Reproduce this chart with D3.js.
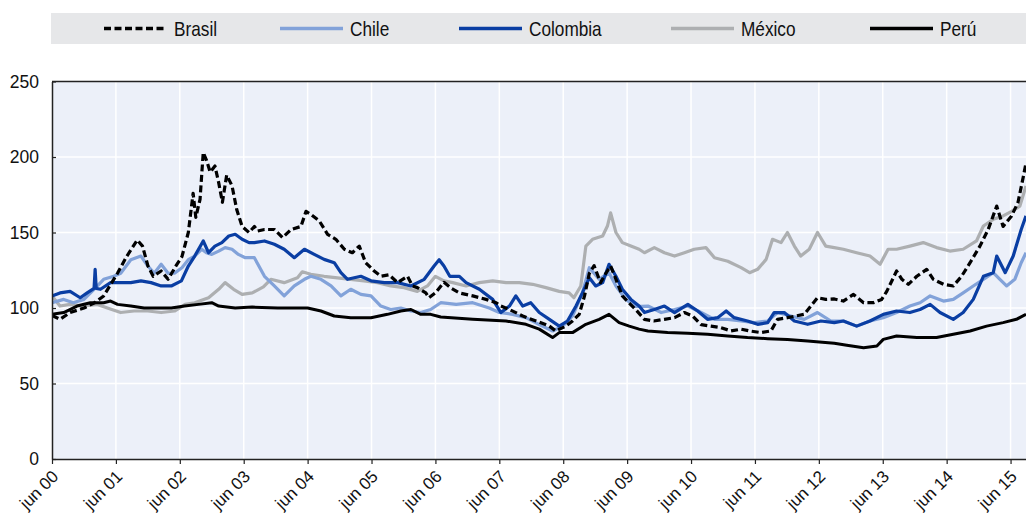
<!DOCTYPE html>
<html>
<head>
<meta charset="utf-8">
<script src="https://cdn.jsdelivr.net/npm/d3@7"></script>
<style>
  body { margin: 0; background: #fff; }
  svg { display: block; font-family: "Liberation Sans", Arial, sans-serif; }
</style>
</head>
<body>
<svg id="chart" width="1026" height="516"></svg>
<script>
// months counted from jun 2000, value = index
const tickMonths = [0, 12, 24, 36, 48, 60, 72, 84, 96, 108, 120, 132, 144, 156, 168, 180];
const tickLabels = ["jun 00", "jun 01", "jun 02", "jun 03", "jun 04", "jun 05", "jun 06", "jun 07",
  "jun 08", "jun 09", "jun 10", "jun 11", "jun 12", "jun 13", "jun 14", "jun 15"];
const yTicks = [0, 50, 100, 150, 200, 250];

const brasil = [[0,95],[1.5,92.5],[3.4,97],[6,100],[8,103.5],[9.7,108],[12.3,123],[14,134],[16,145],[17,141],[18,128],[19,121],[20.5,124.5],[21.8,119],[23.3,128],[24.4,134],[25.6,150],[26.5,176],[27,160],[27.8,172],[28.4,203],[29,198],[29.7,190],[30.6,194],[31.3,183],[32,170],[32.8,188],[33.8,181],[34.7,165],[35.7,154],[37,150],[38,154],[38.6,151],[39.9,152],[41.75,152],[43.3,146.6],[44.9,152],[46.75,154],[47.7,164],[48.6,162],[50.2,157.6],[51.75,148.8],[53.3,145.5],[54.9,138.9],[56.4,136.6],[57.7,141],[58.9,130],[60.5,124.5],[61.75,121],[63.3,122],[64.9,116.8],[66.75,121],[67.7,114.6],[68.6,113.5],[70.2,110],[70.8,106.8],[72,110],[73.6,117],[75,113],[76.5,110],[79,108],[81.5,105.7],[83.4,103.5],[84.3,101.3],[85.9,99],[88.4,94.7],[90.9,91.4],[93.4,88],[94.6,84.8],[96.5,88],[97.75,91.4],[99,95.8],[100,108],[100.9,123],[101.8,128],[103,116.8],[104,123],[104.9,127.8],[105.9,119],[107.1,108],[108.3,103.5],[109.6,99],[111.25,92.5],[113,91.4],[115,92.5],[116.9,93.6],[118.75,97],[120.3,94.7],[121.9,89],[123.75,88],[125.6,87],[127.5,84.8],[129.4,86],[131,84.8],[133.1,83.7],[135,84.8],[136.25,92.5],[138.1,93.6],[141.25,95.8],[142.5,101.3],[143.75,106.8],[145.3,105.7],[146.9,106],[148.6,104.6],[150.5,109],[152.4,103.5],[154.25,103.5],[155.8,105.7],[156.75,111],[158.6,124.5],[159.6,119],[160.8,115.7],[162.4,121],[164.25,125.6],[165.5,119],[167.4,115.7],[169.25,114.6],[170.8,121],[172.4,130],[174.25,141],[175.8,152],[177.4,167.5],[178.6,154],[180.2,161],[181.4,170],[182.4,187],[182.9,196]];

const chile = [[0,103.5],[2.2,105.7],[4,103.5],[6,105.7],[7.8,112],[9.7,119],[11.6,121],[12.9,123],[14.8,132],[16.7,134.4],[18,127.8],[19.2,123],[20.5,129],[21.8,123],[23,123],[24.4,126.7],[25.6,132],[26.8,134.4],[28.1,138.9],[29,136.6],[30,135.5],[31.3,137.7],[32.5,140],[33.8,138.9],[35,135.5],[36.3,133.3],[38,133.3],[39.9,121],[41.75,114.6],[43.6,108],[45.5,114.6],[47.4,119],[48.6,121],[50.5,119],[52.4,114.6],[54.25,108],[56.1,112.4],[58,109],[59.9,108],[61.75,101.3],[63.6,99],[65.5,100],[67.4,98],[69.25,97],[71.1,99],[73,103.5],[75.9,102.4],[79,103.5],[82.1,100],[84,97],[86.5,95.8],[89,93.6],[91.5,89],[94,84.8],[95.9,88],[97.75,94.7],[99.6,110],[100.9,126.7],[102.75,119],[104.6,123.4],[105.9,114.6],[107.75,105.7],[109.6,101],[111.9,101.3],[114.4,97],[116.9,99],[119.4,101.3],[121.9,97],[124.4,92.5],[126.9,92.5],[129.4,91.4],[131.9,90.3],[134.4,91.4],[136.25,97],[138.75,94.7],[141.25,92.5],[143.75,97],[146.25,91.4],[148.6,91.4],[151.1,88],[153.6,91.4],[156.1,93.6],[158.6,97],[161.1,101.3],[163,103.5],[164.9,108],[167.4,104.6],[169.25,105.7],[171.1,110],[173,114.6],[174.9,119],[176.75,123.4],[178,119],[179.25,114.6],[180.8,119],[182,130],[182.9,136.6]];

const colombia = [[0,108],[1.5,110],[3.4,111],[5.3,106.8],[6.6,110],[7.9,113],[8.1,125.6],[8.3,113],[9.1,112.4],[11,116.8],[12.9,116.8],[14.8,116.8],[16.7,118],[18.6,116.8],[20.5,114.6],[22.4,114.6],[24.3,118],[25.6,127.8],[26.8,134.4],[28.4,144.4],[29.4,136.6],[30.6,141],[31.9,143.3],[33.2,147.7],[34.4,148.8],[35.7,145.5],[37,143.3],[38,143.3],[39.9,144.4],[41.75,142.2],[43.6,138.9],[45.5,133.3],[47.4,138.9],[49.25,135.5],[51.1,132.2],[53,130],[54.25,123.4],[55.5,119],[58,121],[59.9,118],[62.4,116.8],[64.9,116.8],[67.4,114.6],[69.9,119],[71.75,127.8],[72.7,132],[73.6,127.8],[74.7,121],[76.5,121],[77.75,116.8],[80.25,112.4],[82.75,105.7],[84.3,97],[85.9,101.3],[87.1,108],[88.4,101.3],[89.9,103.5],[91.5,97],[93.4,92.5],[95.25,88],[96.8,91.4],[98.4,101.3],[99.6,110],[100.9,120],[102.1,114.6],[103.4,116.8],[104.6,128.9],[105.9,121],[107.1,112.4],[108.7,105.7],[110.25,101.3],[111.25,97],[113.1,99],[115,101.3],[116.9,97],[119.4,102.4],[121.25,98],[123.1,92.5],[125,93.6],[126.6,98],[128.1,93.6],[130.6,91.4],[132.5,89.2],[134.4,90.3],[135.6,97],[137.5,97],[139.4,91.4],[141.9,89.2],[144.4,91.4],[146.9,90.3],[148.6,91.4],[151.1,88],[153.6,91.4],[156.1,95.8],[158.6,98],[161.1,97],[163,99],[164.9,102.4],[166.75,97],[169.25,92.5],[171.1,97],[173,105.7],[174.9,121],[176.75,123.4],[177.4,134.4],[179,123.4],[180.5,134.4],[182,152],[182.9,161]];

const mexico = [[0,108],[1.5,101.3],[3.4,102.4],[6,101.3],[8.5,102.4],[10.4,100],[12.9,97],[15.4,98],[18,98],[20.5,97],[23,98],[25,102.4],[26.8,103.5],[29.4,106.8],[31.3,112.4],[32.5,116.8],[34.1,112.4],[35.7,109],[37.6,110],[39.7,114],[41.1,119],[43.6,116.8],[46.1,120],[47,124],[48.6,122.3],[51.1,121],[53.6,120],[56.1,119],[58.6,118],[61.1,116.8],[63.6,114.6],[66.1,113.5],[68.6,111],[70.5,114.6],[72,121],[73.6,118],[75.25,116.8],[77.75,114.6],[80.25,116.8],[82.75,118],[85.25,116.8],[87.75,116.8],[90.25,115.7],[92.75,113.5],[95.25,111],[97.1,110],[98,106.8],[99.3,114.6],[100.25,141],[101.5,145.5],[103.4,147.7],[104.3,154.3],[104.9,163],[105.9,150],[107.1,143.3],[108.7,141],[110.25,138.9],[111.25,136.6],[113.1,140],[115,136.6],[116.9,134.4],[118.75,136.6],[120.6,138.9],[122.8,140],[124.4,133.3],[126.9,131],[129.4,126.7],[131,123.4],[132.5,125.6],[134.1,132.2],[135.3,145.5],[136.9,143.3],[138.1,150],[139.4,141],[140.6,134.4],[142.2,138.9],[143.75,150],[145.3,141],[146.9,140],[148.6,138.9],[151.1,136.6],[153.6,134.4],[155.5,129],[157,138.9],[158.6,138.9],[161.1,141],[163.6,143.3],[166.1,140],[168.6,137.7],[171.1,138.9],[173.6,144.4],[174.9,154.3],[176.75,158.7],[178.6,161],[180.2,164],[181.75,167.5],[182.9,180.8]];

const peru = [[0,95.8],[2.2,97],[4.7,101.3],[7.2,103.5],[9.7,103.5],[11,104.6],[12.3,102.4],[14.8,101.3],[17.3,100],[19.9,100],[22.4,100],[24.9,101.3],[27.5,102.4],[30,103.5],[31.3,101.3],[34.4,100],[37.6,100.6],[42.4,100],[48,100],[50.5,98],[53,94.7],[56.1,93.6],[59.9,93.6],[63,95.8],[65.5,98],[67.4,99],[69.25,95.8],[71.1,95.8],[73,94],[79,92.5],[85.25,91.4],[89,89.2],[91.5,86],[94,80.4],[95.25,83.7],[97.75,83.7],[100.25,89.2],[102.75,92.5],[104.6,95.8],[106.5,90.3],[108.4,88],[110.25,86],[111.9,84.8],[115.6,83.7],[119.4,83.2],[123.1,82.6],[126.9,81.5],[130.6,80.4],[134.4,79.7],[138.1,79.2],[141.9,78.1],[144.1,77.5],[146.9,76.6],[149.25,75.3],[152.4,73.7],[154.9,74.8],[156.1,79.2],[158.6,81.5],[162.4,80.4],[166.1,80.4],[169.25,82.6],[172.4,84.8],[175.5,88],[178.6,90.3],[181.1,92.5],[182.9,95.8]];

const series = [
  { name: "Brasil", values: brasil, color: "#000000", dash: "7,3.5", width: 3.2 },
  { name: "Chile", values: chile, color: "#82A2D9", dash: null, width: 3.2 },
  { name: "Colombia", values: colombia, color: "#0A3EA3", dash: null, width: 3.2 },
  { name: "México", values: mexico, color: "#ADAFB1", dash: null, width: 3.2 },
  { name: "Perú", values: peru, color: "#000000", dash: null, width: 3 }
];
// drawing order, back to front
const drawOrder = ["México", "Chile", "Colombia", "Perú", "Brasil"];

const svg = d3.select("#chart");
const margin = { left: 52, right: 0, top: 81.5, bottom: 57 };
const W = +svg.attr("width"), H = +svg.attr("height");
const plotW = W - margin.left - margin.right;
const plotH = H - margin.top - margin.bottom;

const x = d3.scaleLinear().domain([0, 182.9]).range([margin.left, W - margin.right]);
const y = d3.scaleLinear().domain([0, 250]).range([margin.top + plotH, margin.top]);

// legend band
const legend = svg.append("g");
legend.append("rect")
  .attr("x", 51).attr("y", 13).attr("width", W - 51).attr("height", 31)
  .attr("fill", "#E6E7E9");
const legendX = [104, 280, 459, 671, 870];
series.forEach((s, i) => {
  const lx = legendX[i];
  legend.append("line")
    .attr("x1", lx).attr("x2", lx + 63).attr("y1", 28.5).attr("y2", 28.5)
    .attr("stroke", s.color).attr("stroke-width", 3.5)
    .attr("stroke-dasharray", s.dash);
  // narrow face is not installed, so squeeze the regular one
  legend.append("text")
    .attr("transform", `translate(${lx + 70},36) scale(0.82,1)`)
    .attr("font-size", 21).attr("fill", "#111")
    .text(s.name);
});

// plot background
svg.append("rect")
  .attr("x", margin.left).attr("y", margin.top)
  .attr("width", plotW).attr("height", plotH)
  .attr("fill", "#ECF0F9");

// grid
const grid = svg.append("g").attr("stroke", "#fff").attr("stroke-width", 1.5);
grid.selectAll(".gy").data(yTicks.filter(d => d > 0 && d < 250)).join("line")
  .attr("x1", margin.left).attr("x2", W - margin.right)
  .attr("y1", d => y(d)).attr("y2", d => y(d));
grid.selectAll(".gx").data(tickMonths.filter(d => d > 0)).join("line")
  .attr("x1", d => x(d)).attr("x2", d => x(d))
  .attr("y1", margin.top).attr("y2", margin.top + plotH);

// lines
svg.append("clipPath").attr("id", "clip").append("rect")
  .attr("x", margin.left).attr("y", margin.top).attr("width", plotW).attr("height", plotH);

const line = d3.line().x(d => x(d[0])).y(d => y(d[1]));
const lines = svg.append("g").attr("clip-path", "url(#clip)");
drawOrder.forEach(n => {
  const s = series.find(d => d.name === n);
  lines.append("path")
    .datum(s.values)
    .attr("d", line)
    .attr("fill", "none")
    .attr("stroke", s.color)
    .attr("stroke-width", s.width)
    .attr("stroke-linejoin", "round")
    .attr("stroke-dasharray", s.dash);
});

// axes
const yAxis = svg.append("g")
  .attr("transform", `translate(${margin.left},0)`)
  .call(d3.axisLeft(y).tickValues(yTicks).tickSizeInner(-4).tickSizeOuter(0).tickPadding(13));
yAxis.select(".domain").attr("stroke", "#222").attr("stroke-width", 1.5);
yAxis.selectAll(".tick line").attr("stroke", "#222").attr("stroke-width", 1.2);
yAxis.selectAll("text").attr("font-size", 17.5).attr("fill", "#111").attr("font-family", null);

const xAxis = svg.append("g")
  .attr("transform", `translate(0,${margin.top + plotH})`)
  .call(d3.axisBottom(x).tickValues(tickMonths).tickSizeInner(5).tickSizeOuter(0)
    .tickFormat((d, i) => tickLabels[i]));
xAxis.select(".domain").attr("stroke", "#222").attr("stroke-width", 1.5);
xAxis.selectAll(".tick line").attr("stroke", "#222").attr("stroke-width", 1.2);
xAxis.selectAll("text")
  .attr("font-size", 17).attr("fill", "#111").attr("font-family", null)
  .attr("text-anchor", "end")
  .attr("y", 0).attr("dy", 0)
  .attr("transform", "translate(7,18.5) rotate(-45)");

// top frame
svg.append("line")
  .attr("x1", margin.left).attr("x2", W).attr("y1", margin.top).attr("y2", margin.top)
  .attr("stroke", "#222").attr("stroke-width", 1.5);
</script>
</body>
</html>
